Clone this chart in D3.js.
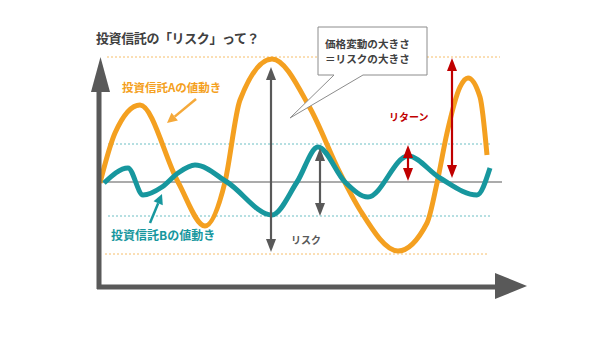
<!DOCTYPE html>
<html><head><meta charset="utf-8">
<script src="https://cdn.jsdelivr.net/npm/d3@7"></script>
<style>
html,body{margin:0;padding:0;background:#fff;}
svg{display:block;font-family:"Noto Sans CJK JP","Noto Sans",sans-serif;}
</style></head>
<body><svg id="c" width="600" height="338"></svg>
<script>
// ---- data (time units on x, value units on y; 0 = baseline) ----
const titleText = "投資信託の「リスク」って？";
const fundALabel = "投資信託Aの値動き";
const fundBLabel = "投資信託Bの値動き";
const calloutLines = ["価格変動の大きさ", "＝リスクの大きさ"];
const riskLabel = "リスク";
const returnLabel = "リターン";

const fundA_t = [0, 1.5, 4.0, 7.8, 10.5, 12.5, 14.0, 17.2, 21.0, 24.0, 26.0, 29.8, 32.7, 33.7, 34.7, 36.0, 36.8, 38.0, 38.7];
const fundA_v = [-0.1, 4.9, 7.7, 0, -4.4, 0, 8.2, 12.3, 7.4, 0.9, -2.8, -6.9, -4.1, -0.1, 4.9, 9.5, 10.4, 8.5, 2.7];

const fundB_t = [0.4, 2.8, 4.3, 6.2, 7.8, 9.5, 12.7, 17.2, 19.7, 21.8, 24.5, 26.8, 30.8, 34.0, 37.7, 39.0];
const fundB_v = [-0.1, 1.4, -1.3, -0.5, 0.9, 1.7, 0, -3.3, 0, 3.5, 0, -1.5, 2.6, 0.4, -1.3, 1.4];

const bandA = [12.5, -7.2];   // range of fund A
const bandB = [3.8, -3.4];    // range of fund B

// double arrows: [t, from, to]
const riskArrows = [[17.1, 11.5, -7.0], [22.0, 3.4, -3.4]];
const returnArrows = [[30.8, 3.7, 0.1], [35.2, 12.4, 0.4]];

// ---- scales ----
const x = d3.scaleLinear().domain([0, 40]).range([100, 500]);
const y = d3.scaleLinear().domain([-10.8, 12.2]).range([290, 60]);

const svg = d3.select("#c");
const ORANGE = "#F4A020", TEAL = "#17979E", GRAY = "#595959", RED = "#C00000";

// title
svg.append("text").attr("x", 96).attr("y", 43).attr("font-size", 13)
  .attr("letter-spacing", -0.4)
  .attr("font-weight", "bold").attr("fill", "#404040").text(titleText);

// dotted range lines
function hline(v, x0, x1, color, dash) {
  svg.append("line").attr("x1", x(x0)).attr("x2", x(x1)).attr("y1", y(v)).attr("y2", y(v))
    .attr("stroke", color).attr("stroke-width", 1).attr("stroke-dasharray", dash);
}
hline(bandA[0], 0.7, 40.0, "#F6BE6A", "2,2");
hline(bandA[1], 0.5, 38.8, "#F6BE6A", "2,2");
hline(bandB[0], 0.8, 39.2, "#6DBFC4", "2,2");
hline(bandB[1], 0.8, 39.2, "#6DBFC4", "2,2");
// baseline
svg.append("line").attr("x1", x(0)).attr("x2", x(40.2)).attr("y1", y(0)).attr("y2", y(0))
  .attr("stroke", GRAY).attr("stroke-width", 1.2);

// curves
const line = d3.line().x(d => x(d[0])).y(d => y(d[1])).curve(d3.curveMonotoneX);
svg.append("path").attr("d", line(fundA_t.map((t, i) => [t, fundA_v[i]])))
  .attr("fill", "none").attr("stroke", ORANGE).attr("stroke-width", 5).attr("stroke-linecap", "butt");
svg.append("path").attr("d", line(fundB_t.map((t, i) => [t, fundB_v[i]])))
  .attr("fill", "none").attr("stroke", TEAL).attr("stroke-width", 5).attr("stroke-linecap", "butt");

// axes
svg.append("line").attr("x1", 99).attr("x2", 99).attr("y1", 289).attr("y2", 90)
  .attr("stroke", GRAY).attr("stroke-width", 5);
svg.append("path").attr("d", "M91,92 L110,92 L100.5,57 Z").attr("fill", GRAY);
svg.append("line").attr("x1", 97).attr("x2", 497).attr("y1", 287).attr("y2", 287)
  .attr("stroke", GRAY).attr("stroke-width", 5);
svg.append("path").attr("d", "M495,273 L495,299 L527,286 Z").attr("fill", GRAY);

// double arrows
function dblArrow(t, a, b, color, w, hw, hl) {
  const px = x(t), ya = y(a), yb = y(b);
  const dir = yb > ya ? 1 : -1;
  svg.append("line").attr("x1", px).attr("x2", px).attr("y1", ya + dir * hl * 0.8).attr("y2", yb - dir * hl * 0.8)
    .attr("stroke", color).attr("stroke-width", w);
  svg.append("path").attr("d", `M${px},${ya} L${px - hw},${ya + dir * hl} L${px + hw},${ya + dir * hl} Z`).attr("fill", color);
  svg.append("path").attr("d", `M${px},${yb} L${px - hw},${yb - dir * hl} L${px + hw},${yb - dir * hl} Z`).attr("fill", color);
}
riskArrows.forEach(d => dblArrow(d[0], d[1], d[2], GRAY, 2.2, 5, 13));
returnArrows.forEach(d => dblArrow(d[0], d[1], d[2], RED, 2.2, 5, 13));

// single pointer arrows
function ptr(x1, y1, x2, y2, color) {
  const ang = Math.atan2(y2 - y1, x2 - x1), hl = 10, hw = 5;
  const bx = x2 - hl * Math.cos(ang), by = y2 - hl * Math.sin(ang);
  svg.append("line").attr("x1", x1).attr("y1", y1).attr("x2", bx).attr("y2", by)
    .attr("stroke", color).attr("stroke-width", 2.5);
  svg.append("path").attr("d", `M${x2},${y2} L${bx - hw * Math.sin(ang)},${by + hw * Math.cos(ang)} L${bx + hw * Math.sin(ang)},${by - hw * Math.cos(ang)} Z`)
    .attr("fill", color);
}
ptr(196, 99, 167, 123, "#F5A93A");
ptr(150, 223, 162, 194, TEAL);

// callout
svg.append("path").attr("d", "M318,27 L427,27 L427,75 L363,75 L290,118 L334,75 L318,75 Z")
  .attr("fill", "#fff").attr("stroke", "#8c8c8c").attr("stroke-width", 1);
calloutLines.forEach((s, i) => svg.append("text").attr("x", 325).attr("y", 47.5 + i * 15.6)
  .attr("font-size", 10.6).attr("font-weight", "bold").attr("fill", "#404040").text(s));

// labels
svg.append("text").attr("x", 122).attr("y", 92).attr("font-size", 11.5).attr("font-weight", "bold")
  .attr("fill", ORANGE).text(fundALabel);
svg.append("text").attr("x", 111).attr("y", 240).attr("font-size", 12).attr("font-weight", "bold")
  .attr("fill", TEAL).text(fundBLabel);
svg.append("text").attr("x", 291).attr("y", 244).attr("font-size", 10).attr("font-weight", "bold")
  .attr("fill", GRAY).text(riskLabel);
svg.append("text").attr("x", 389).attr("y", 121).attr("font-size", 10).attr("font-weight", "bold")
  .attr("fill", RED).text(returnLabel);
</script></body></html>
